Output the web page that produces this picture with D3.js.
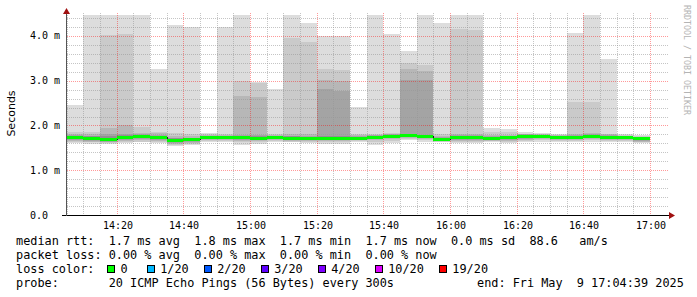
<!DOCTYPE html>
<html>
<head>
<meta charset="utf-8">
<script src="https://cdn.jsdelivr.net/npm/d3@7"></script>
<style>
body { margin: 0; background: #fff; }
svg text { font-family: "DejaVu Sans Mono", monospace; white-space: pre; }
</style>
</head>
<body>
<div id="chart"></div>
<script>
// 5 minute steps, start time of each step
var steps = ["14:05","14:10","14:15","14:20","14:25","14:30","14:35","14:40","14:45","14:50","14:55",
  "15:00","15:05","15:10","15:15","15:20","15:25","15:30","15:35","15:40","15:45","15:50","15:55",
  "16:00","16:05","16:10","16:15","16:20","16:25","16:30","16:35","16:40","16:45","16:50","16:55"];

// median rtt in ms
var median = [1.74,1.72,1.70,1.74,1.76,1.74,1.68,1.69,1.74,1.74,1.74,1.72,1.74,1.73,1.73,1.73,1.73,1.73,
  1.75,1.77,1.79,1.77,1.70,1.74,1.74,1.72,1.74,1.77,1.77,1.75,1.75,1.77,1.75,1.74,1.71];

// smoke bands, outermost pair first (ms)
var hi1 = [2.46,4.5,4.5,4.5,4.5,3.26,4.25,4.2,1.84,4.19,4.5,2.98,2.82,4.5,4.29,4.0,4.0,2.41,4.5,4.05,
  3.66,4.5,4.29,4.5,4.5,1.94,1.92,1.85,1.83,1.80,4.07,4.5,3.49,1.80,1.79];
var hi2 = [1.85,1.86,4.02,4.05,1.97,1.86,1.84,1.80,1.80,1.81,2.99,2.96,1.82,3.96,3.87,3.26,3.24,1.81,
  1.82,1.83,3.40,3.35,1.81,4.16,4.13,1.86,1.85,1.82,1.81,1.79,2.53,2.53,1.82,1.78,1.77];
var hi3 = [1.80,1.80,1.94,2.01,1.84,1.83,1.77,1.76,1.78,1.79,2.66,2.64,1.79,1.80,1.80,3.02,3.00,1.78,
  1.79,1.81,3.26,3.22,1.77,1.82,1.80,1.78,1.79,1.81,1.80,1.78,1.82,1.83,1.80,1.77,1.75];
var hi4 = [1.78,1.77,1.80,1.81,1.80,1.79,1.73,1.73,1.76,1.77,1.79,1.78,1.77,1.77,1.77,2.82,2.77,1.76,
  1.78,1.80,3.02,3.02,1.74,1.78,1.78,1.76,1.77,1.80,1.79,1.77,1.79,1.80,1.78,1.76,1.74];
var hi5 = [1.77,1.76,1.76,1.78,1.79,1.77,1.71,1.72,1.76,1.76,1.77,1.76,1.76,1.76,1.75,1.76,1.76,1.75,
  1.77,1.79,1.81,1.79,1.72,1.76,1.76,1.74,1.76,1.79,1.79,1.77,1.77,1.79,1.77,1.76,1.73];
var lo5 = [1.70,1.68,1.66,1.70,1.72,1.70,1.64,1.65,1.71,1.71,1.70,1.69,1.71,1.69,1.69,1.70,1.70,1.70,
  1.72,1.74,1.76,1.74,1.67,1.70,1.70,1.69,1.70,1.73,1.73,1.72,1.72,1.74,1.72,1.71,1.68];
var lo4 = [1.68,1.66,1.64,1.68,1.69,1.68,1.61,1.63,1.69,1.69,1.68,1.67,1.69,1.67,1.67,1.68,1.68,1.69,
  1.70,1.72,1.74,1.72,1.66,1.68,1.67,1.67,1.67,1.70,1.71,1.70,1.70,1.72,1.70,1.69,1.66];
var lo3 = [1.66,1.64,1.62,1.66,1.67,1.66,1.59,1.61,1.68,1.68,1.66,1.65,1.67,1.66,1.65,1.65,1.65,1.68,
  1.68,1.70,1.72,1.70,1.65,1.66,1.65,1.66,1.65,1.68,1.69,1.68,1.68,1.70,1.68,1.67,1.64];
var lo2 = [1.63,1.62,1.60,1.63,1.64,1.64,1.57,1.59,1.66,1.65,1.62,1.63,1.65,1.64,1.63,1.62,1.62,1.66,
  1.64,1.66,1.70,1.67,1.64,1.64,1.63,1.65,1.63,1.66,1.67,1.66,1.66,1.67,1.66,1.66,1.62];
var lo1 = [1.60,1.59,1.58,1.60,1.62,1.61,1.55,1.57,1.64,1.62,1.56,1.59,1.62,1.62,1.60,1.59,1.59,1.63,
  1.57,1.60,1.67,1.64,1.62,1.61,1.60,1.63,1.60,1.63,1.64,1.64,1.63,1.64,1.63,1.64,1.60];

var yTicks = [0, 1, 2, 3, 4];
var rttStats = [1.7, 1.8, 1.7, 1.7];
var statNames = ["avg", "max", "min", "now"];
var lossStats = [0, 0, 0, 0];
var lossLabels = ["0", "1/20", "2/20", "3/20", "4/20", "10/20", "19/20"];
var lossColors = ["#00ff00", "#00b8ff", "#0059ff", "#5e00ff", "#7e00ff", "#dd00ff", "#ff0000"];

var W = 697, H = 297;
var svg = d3.select('#chart').append('svg')
  .attr('width', W)
  .attr('height', H);

var day = function(s, sec) {
  var p = s.split(':');
  return new Date(2025, 4, 9, +p[0], +p[1], sec || 0);
};
var t0 = day("14:04", 39), t1 = day("17:04", 39);

var x = d3.scaleTime().domain([t0, t1]).range([66, 666]);
var y = d3.scaleLinear().domain([0, 4.48]).range([215, 14.5]);

svg.append('defs').append('clipPath').attr('id', 'plot')
  .append('rect').attr('x', 66).attr('y', 15).attr('width', 601).attr('height', 200);

// smoke
var bands = [[lo1, hi1, "#dddddd"], [lo2, hi2, "#cacaca"], [lo3, hi3, "#b7b7b7"],
  [lo4, hi4, "#a4a4a4"], [lo5, hi5, "#919191"]];
var smoke = svg.append('g').attr('clip-path', 'url(#plot)').attr('shape-rendering', 'crispEdges');
bands.forEach(function(b) {
  smoke.append('g').selectAll('rect')
    .data(steps)
    .enter().append('rect')
    .attr('x', function(d) { return Math.floor(x(day(d))); })
    .attr('width', function(d) { return Math.floor(x(new Date(+day(d) + 300000))) - Math.floor(x(day(d))); })
    .attr('y', function(d, i) { return Math.round(y(b[1][i])); })
    .attr('height', function(d, i) { return Math.round(y(b[0][i])) - Math.round(y(b[1][i])); })
    .style('fill', b[2]);
});

// grid
var grid = svg.append('g').attr('shape-rendering', 'crispEdges');
var hvals = d3.range(1, 23).map(function(k) { return k / 5; });
grid.selectAll('.hg')
  .data(hvals)
  .enter().append('line')
  .attr('x1', 67).attr('x2', 669)
  .attr('y1', function(d) { return Math.round(y(d)) + 0.5; })
  .attr('y2', function(d) { return Math.round(y(d)) + 0.5; })
  .style('stroke', function(d) { return Math.abs(d - Math.round(d)) < 1e-6 ? 'rgba(255,0,0,0.4)' : 'rgba(150,150,150,0.55)'; })
  .style('stroke-dasharray', '1,1');

var minor = d3.timeMinute.every(5).range(t0, t1);
grid.selectAll('.vg')
  .data(minor)
  .enter().append('line')
  .attr('x1', function(d) { return Math.floor(x(d)) + 0.5; })
  .attr('x2', function(d) { return Math.floor(x(d)) + 0.5; })
  .attr('y1', 13).attr('y2', 215)
  .style('stroke', function(d) { return d.getMinutes() % 20 == 0 ? 'rgba(255,0,0,0.4)' : 'rgba(150,150,150,0.55)'; })
  .style('stroke-dasharray', '1,1');

// median: dark step line, then loss coloured band
var stepLine = d3.line()
  .x(function(d) { return d[0]; })
  .y(function(d) { return d[1]; })
  .curve(d3.curveStepAfter);
var pts = steps.map(function(d, i) { return [Math.floor(x(day(d))), Math.round(y(median[i])) + 0.5]; });
pts.push([Math.floor(x(new Date(+day(steps[steps.length - 1]) + 300000))), pts[pts.length - 1][1]]);
svg.append('path')
  .attr('d', stepLine(pts))
  .style('fill', 'none')
  .style('stroke', '#202020')
  .style('stroke-width', 1)
  .attr('shape-rendering', 'crispEdges');

svg.append('g').attr('shape-rendering', 'crispEdges').selectAll('rect')
  .data(steps)
  .enter().append('rect')
  .attr('x', function(d) { return Math.floor(x(day(d))); })
  .attr('width', function(d) { return Math.floor(x(new Date(+day(d) + 300000))) - Math.floor(x(day(d))); })
  .attr('y', function(d, i) { return Math.round(y(median[i])) - 1; })
  .attr('height', 3)
  .style('fill', lossColors[0]);

// axes
svg.append('line')
  .attr('x1', 62).attr('x2', 670).attr('y1', 215.5).attr('y2', 215.5)
  .style('stroke', '#000').attr('shape-rendering', 'crispEdges');
svg.append('line')
  .attr('x1', 66.5).attr('x2', 66.5).attr('y1', 216).attr('y2', 12)
  .style('stroke', '#555').attr('shape-rendering', 'crispEdges');
svg.append('path').attr('d', 'M669,212 L675,215.5 L669,219 Z').style('fill', '#a01010');
svg.append('path').attr('d', 'M63,14 L66.5,8 L70,14 Z').style('fill', '#a01010');

svg.selectAll('.yl')
  .data(yTicks)
  .enter().append('text')
  .attr('x', 30)
  .attr('y', function(d) { return y(d) + 3.5; })
  .style('font-size', '10px')
  .style('fill', '#000')
  .text(function(d) { return d == 0 ? "0.0" : d.toFixed(1) + " m"; });

var fmt = d3.timeFormat("%H:%M");
svg.selectAll('.xl')
  .data(d3.timeMinute.every(20).range(t0, t1))
  .enter().append('text')
  .attr('x', function(d) { return Math.floor(x(d)) + 1; })
  .attr('y', 228.5)
  .attr('text-anchor', 'middle')
  .style('font-size', '10px')
  .text(fmt);

svg.append('text')
  .attr('transform', 'translate(15,113.5) rotate(-90)')
  .attr('text-anchor', 'middle')
  .style('font-family', '"DejaVu Sans", sans-serif')
  .style('font-size', '11px')
  .text('Seconds');

svg.append('text')
  .attr('transform', 'translate(684,5) rotate(90)')
  .style('font-size', '8.3px')
  .style('fill', '#b4b4b4')
  .text('RRDTOOL / TOBI OETIKER');

// legend
var lg = svg.append('g').style('font-size', '11.85px').style('fill', '#000');
lg.append('text').attr('x', 16).attr('y', 245)
  .text('median rtt:  ' + rttStats.map(function(v, i) { return v.toFixed(1) + ' ms ' + statNames[i]; }).join('  ') +
    '  0.0 ms sd  88.6   am/s');
lg.append('text').attr('x', 16).attr('y', 259)
  .text('packet loss: ' + lossStats.map(function(v, i) { return v.toFixed(2) + ' % ' + statNames[i]; }).join('  '));
lg.append('text').attr('x', 16).attr('y', 273).text('loss color:');
var lx = 107;
lossLabels.forEach(function(l, i) {
  lg.append('rect').attr('x', lx + 0.5).attr('y', 265.5).attr('width', 7).attr('height', 7)
    .style('fill', lossColors[i]).style('stroke', '#000').style('stroke-width', 1)
    .attr('shape-rendering', 'crispEdges');
  lg.append('text').attr('x', lx + 13.5).attr('y', 273).text(l);
  lx += 13.5 + l.length * 7.13 + (i == 0 ? 19 : 15);
});
lg.append('text').attr('x', 16).attr('y', 287).text('probe:       20 ICMP Echo Pings (56 Bytes) every 300s');
lg.append('text').attr('x', 477).attr('y', 287).text('end: Fri May  9 17:04:39 2025');
</script>
</body>
</html>
